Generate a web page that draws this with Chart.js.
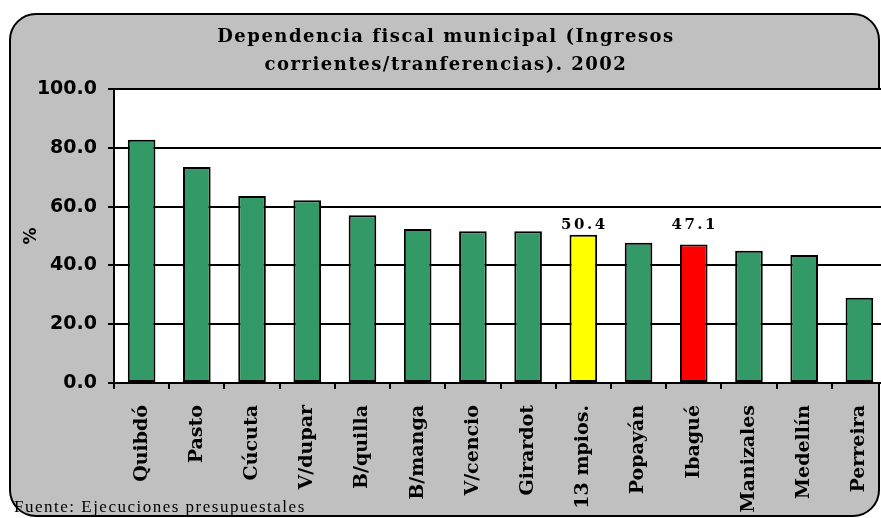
<!DOCTYPE html>
<html>
<head>
<meta charset="utf-8">
<script src="https://cdn.jsdelivr.net/npm/chart.js@4.4.1/dist/chart.umd.min.js"></script>
<style>
  html, body { margin: 0; padding: 0; overflow: hidden; background: #fff; }
  canvas { display: block; }
</style>
</head>
<body>
<canvas id="chart" width="887" height="518"></canvas>
<script>
const categories = ['Quibdó', 'Pasto', 'Cúcuta', 'V/dupar', 'B/quilla', 'B/manga', 'V/cencio',
  'Girardot', '13 mpios.', 'Popayán', 'Ibagué', 'Manizales', 'Medellín', 'Perreira'];
const values = [82.7, 73.5, 63.6, 62.2, 57.1, 52.4, 51.6, 51.6, 50.4, 47.7, 47.1, 45.0, 43.5, 29.0];
const barColors = ['#339966', '#339966', '#339966', '#339966', '#339966', '#339966', '#339966',
  '#339966', '#FFFF00', '#339966', '#FF0000', '#339966', '#339966', '#339966'];
const labelledBars = [8, 10]; // only these show their value
const titleLines = ['Dependencia fiscal municipal (Ingresos', 'corrientes/tranferencias). 2002'];
const footer = 'Fuente: Ejecuciones presupuestales';

// grey rounded frame, white plot area, title, footer and value labels
const framePlugin = {
  id: 'frame',
  beforeDraw(chart) {
    const ctx = chart.ctx, a = chart.chartArea;
    ctx.save();
    ctx.beginPath();
    ctx.roundRect(10, 14, 869, 502, 26);
    ctx.fillStyle = '#C0C0C0';
    ctx.fill();
    ctx.lineWidth = 2;
    ctx.strokeStyle = '#000';
    ctx.stroke();
    ctx.fillStyle = '#fff';
    ctx.fillRect(a.left, a.top, a.right - a.left, a.bottom - a.top);

    ctx.fillStyle = '#000';
    ctx.textAlign = 'center';
    ctx.textBaseline = 'alphabetic';
    ctx.font = 'bold 18px "DejaVu Serif"';
    ctx.letterSpacing = '1.5px';
    ctx.fillText(titleLines[0], 446, 42);
    ctx.fillText(titleLines[1], 446, 70);

    ctx.textAlign = 'left';
    ctx.font = '17px "Liberation Serif"';
    ctx.letterSpacing = '1.5px';
    ctx.fillText(footer, 14, 512);
    ctx.restore();
  },
  afterDatasetsDraw(chart) {
    const ctx = chart.ctx;
    const bars = chart.getDatasetMeta(0).data;
    // both labels sit on one line, just above the taller of the two bars
    const top = Math.max(...labelledBars.map(i => values[i]));
    const y = chart.scales.y.getPixelForValue(top) - 6;
    ctx.save();
    ctx.fillStyle = '#000';
    ctx.textAlign = 'center';
    ctx.textBaseline = 'alphabetic';
    ctx.font = 'bold 15px "DejaVu Serif"';
    ctx.letterSpacing = '2.5px';
    labelledBars.forEach(i => {
      ctx.fillText(values[i].toFixed(1), bars[i].x + 1, y);
    });
    ctx.restore();
  }
};

new Chart(document.getElementById('chart'), {
  type: 'bar',
  data: {
    labels: categories,
    datasets: [{
      data: values,
      backgroundColor: barColors,
      borderColor: '#000',
      borderWidth: 2,
      borderSkipped: false,
      barPercentage: 0.5,
      categoryPercentage: 1.0
    }]
  },
  options: {
    responsive: false,
    animation: false,
    layout: { padding: { top: 89, left: 0, right: 0, bottom: 0 } },
    plugins: { legend: { display: false }, tooltip: { enabled: false }, title: { display: false } },
    scales: {
      x: {
        grid: { drawOnChartArea: false, drawTicks: true, tickLength: 6, color: '#000', lineWidth: 2 },
        border: { display: true, color: '#000', width: 2 },
        ticks: {
          color: '#000', minRotation: 90, maxRotation: 90, padding: 16,
          font: { family: '"DejaVu Serif"', weight: 'bold', size: 19 }
        },
        afterFit(scale) {
          scale.height = 135;
          scale.paddingLeft = 0;
          scale.paddingRight = 0;
        }
      },
      y: {
        min: 0, max: 100,
        grid: { color: '#000', lineWidth: 2, tickLength: 6 },
        border: { display: true, color: '#000', width: 2 },
        ticks: {
          stepSize: 20, color: '#000', padding: 11,
          font: { family: '"DejaVu Sans"', weight: 'bold', size: 19 },
          callback: v => Number(v).toFixed(1)
        },
        title: {
          display: true, text: '%', color: '#000',
          font: { family: '"DejaVu Sans"', weight: 'bold', size: 17 },
          padding: { top: 21, bottom: 0 }
        },
        afterFit(scale) { scale.width = 114; }
      }
    }
  },
  plugins: [framePlugin]
});
</script>
</body>
</html>
